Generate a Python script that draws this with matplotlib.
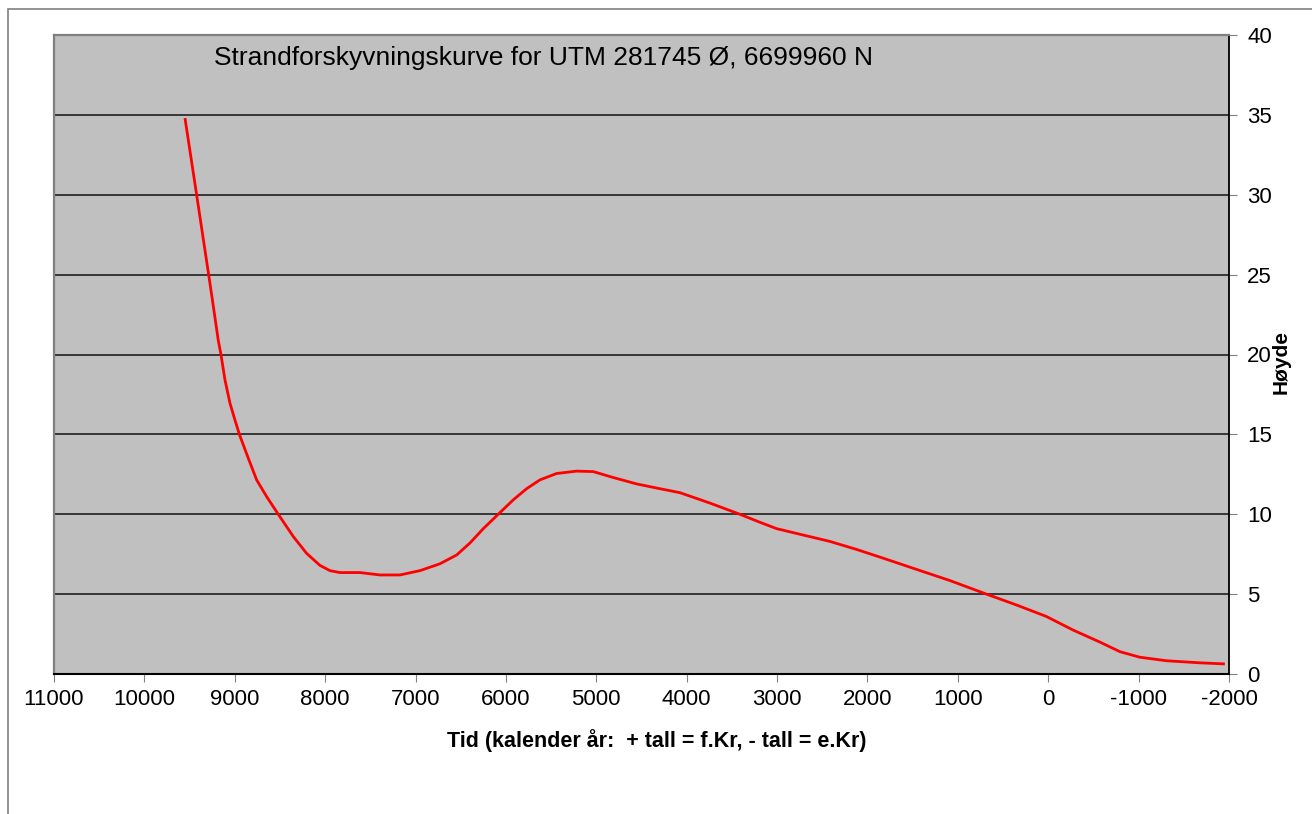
import matplotlib.pyplot as plt
from matplotlib.patches import Rectangle

plt.rcParams['font.family'] = ['Liberation Sans', 'DejaVu Sans']

# years (calendar: + = BC, - = AD) and shoreline height
tid = [9551, 9422, 9289, 9247, 9183, 9153, 9108, 9053, 8998, 8949, 8850,
       8758, 8647, 8519, 8352, 8205, 8058, 7947, 7836, 7615, 7394, 7173,
       6951, 6730, 6545, 6398, 6250, 6085, 5919, 5771, 5624, 5440, 5218,
       5034, 4813, 4555, 4297, 4075, 3743, 3412, 3191, 3006, 2712, 2416,
       2122, 1826, 1458, 1088, 683, 351, 20, -275, -571, -792, -1013,
       -1308, -1677, -1954]
hoyde = [34.8, 30.0, 25.0, 23.4, 20.9, 20.0, 18.4, 16.95, 15.9, 15.0, 13.5,
         12.15, 11.1, 10.0, 8.6, 7.55, 6.8, 6.47, 6.35, 6.35, 6.2, 6.2,
         6.47, 6.9, 7.45, 8.2, 9.1, 10.0, 10.9, 11.6, 12.15, 12.55, 12.7,
         12.67, 12.3, 11.9, 11.6, 11.35, 10.7, 10.0, 9.5, 9.1, 8.7, 8.3,
         7.8, 7.25, 6.55, 5.85, 5.0, 4.32, 3.6, 2.75, 2.0, 1.4, 1.05,
         0.83, 0.7, 0.63]

xticks = list(range(11000, -2001, -1000))
yticks = list(range(0, 41, 5))

fig = plt.figure(figsize=(13.12, 8.14), dpi=100)
fig.patches.append(Rectangle((8 / 1312, -0.1), 1.2, 1 - 9 / 814 + 0.1,
                             transform=fig.transFigure, fill=False,
                             edgecolor='#808080', lw=1.2))

ax = fig.add_axes([54 / 1312, 140 / 814, 1175 / 1312, 639 / 814])
ax.set_facecolor('#C0C0C0')

for y in yticks[1:-1]:
    ax.axhline(y, color='#202020', lw=1.2, zorder=1)

ax.plot(tid, hoyde, color='#FF0000', lw=2.0, zorder=3,
        solid_joinstyle='round', solid_capstyle='butt')

ax.set_xlim(11000, -2000)
ax.set_ylim(0, 40)
ax.set_xticks(xticks)
ax.set_xticklabels([str(v) for v in xticks], fontsize=16)
ax.set_yticks(yticks)
ax.set_yticklabels([str(v) for v in yticks], fontsize=16)
ax.yaxis.tick_right()
ax.tick_params(axis='x', direction='out', length=6, color='#808080', pad=5)
ax.tick_params(axis='y', direction='out', length=6, color='#808080', pad=7)

ax.spines['left'].set_color('#808080')
ax.spines['left'].set_linewidth(1.6)
ax.spines['top'].set_color('#808080')
ax.spines['top'].set_linewidth(1.6)
ax.spines['bottom'].set_color('black')
ax.spines['bottom'].set_linewidth(1.5)
ax.spines['right'].set_color('black')
ax.spines['right'].set_linewidth(1.3)

ax.text(657 / 1312, 1 - 741 / 814,
        'Tid (kalender år:  + tall = f.Kr, - tall = e.Kr)',
        transform=fig.transFigure, ha='center', va='center',
        fontsize=15.5, fontweight='bold')
ax.text(1281 / 1312, 1 - 362 / 814, 'Høyde', transform=fig.transFigure,
        rotation=90, ha='center', va='center', fontsize=15, fontweight='bold')

ax.text(544 / 1312, 1 - 58 / 814,
        'Strandforskyvningskurve for UTM 281745 Ø, 6699960 N',
        transform=fig.transFigure, ha='center', va='center', fontsize=19)

fig.savefig('out.png', dpi=100)
